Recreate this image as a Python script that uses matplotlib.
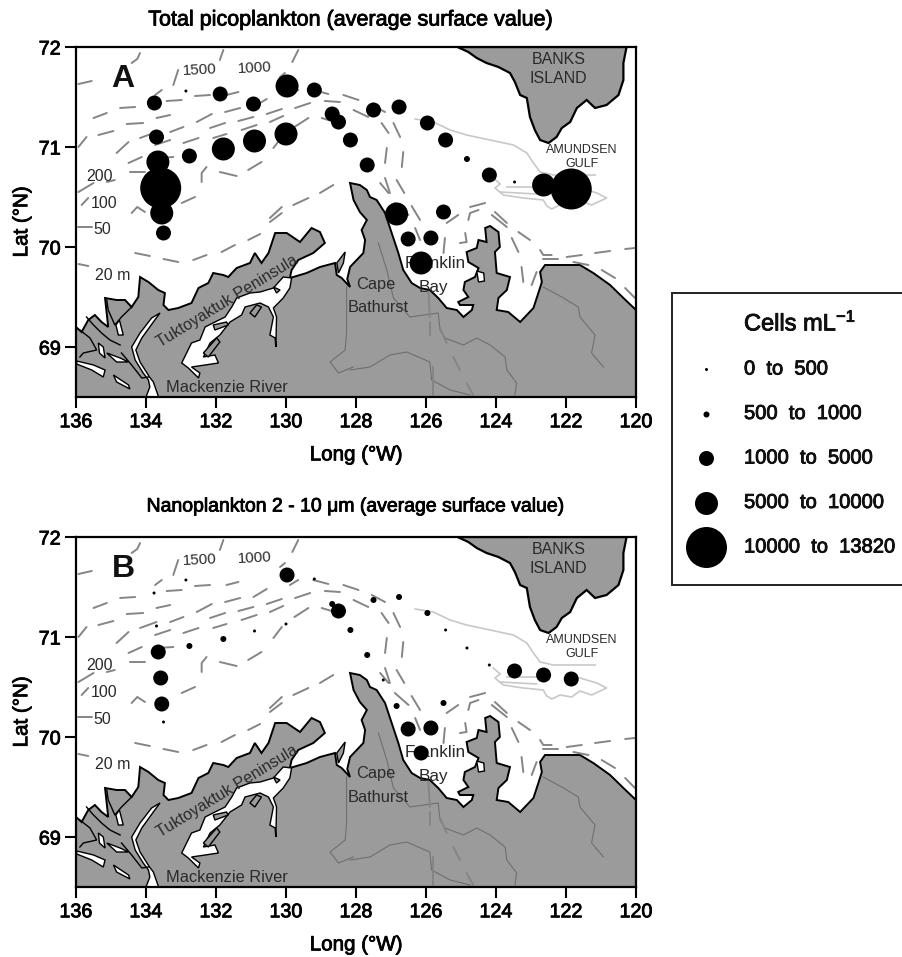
"""Picoplankton and nanoplankton station maps, Amundsen Gulf."""
import matplotlib
matplotlib.use("Agg")
import matplotlib.pyplot as plt
import matplotlib.patheffects as pe
from matplotlib.patches import Polygon, Rectangle

plt.rcParams["font.family"] = ["Liberation Sans", "DejaVu Sans"]
plt.rcParams["mathtext.default"] = "regular"

# station positions and abundance class (index into class_labels)
lon_a = [133.76, 133.70, 133.66, 133.58, 133.55, 133.50, 132.76, 131.79, 130.90, 130.00,
         131.88, 130.93, 129.97, 129.19, 128.68, 128.50, 128.16, 132.86, 127.50, 126.77,
         125.96, 125.44, 124.83, 124.19, 123.47, 122.64, 121.85, 127.68, 126.84, 125.50,
         126.51, 125.86, 126.14]
lat_a = [71.44, 71.10, 70.85, 70.59, 70.34, 70.14, 70.91, 70.98, 71.06, 71.13,
         71.53, 71.43, 71.61, 71.57, 71.33, 71.25, 71.07, 71.56, 71.37, 71.40,
         71.24, 71.07, 70.88, 70.72, 70.65, 70.62, 70.58, 70.82, 70.33, 70.35,
         70.08, 70.09, 69.84]
bin_a = [2, 2, 3, 4, 3, 2, 2, 3, 3, 3,
         2, 2, 3, 2, 2, 2, 2, 0, 2, 2,
         2, 2, 1, 2, 0, 3, 4, 2, 3, 2,
         2, 2, 3]

lon_b = [132.86, 133.77, 133.70, 133.65, 133.58, 133.55, 133.50, 132.76, 131.79, 130.90,
         130.00, 129.97, 129.19, 128.68, 128.50, 128.16, 127.50, 126.77, 125.96, 125.44,
         124.83, 124.19, 123.47, 122.64, 121.85, 127.68, 127.22, 126.84, 125.50, 126.51,
         125.86, 126.14]
lat_b = [71.57, 71.44, 71.11, 70.85, 70.59, 70.33, 70.15, 70.91, 70.98, 71.06,
         71.13, 71.62, 71.58, 71.33, 71.26, 71.07, 71.37, 71.40, 71.24, 71.07,
         70.89, 70.72, 70.66, 70.62, 70.58, 70.82, 70.57, 70.31, 70.34, 70.08,
         70.09, 69.84]
bin_b = [0, 0, 0, 2, 2, 2, 0, 1, 1, 0,
         0, 2, 0, 1, 2, 1, 1, 1, 1, 0,
         0, 0, 2, 2, 2, 1, 0, 1, 1, 2,
         2, 2]

class_labels = ["0  to  500", "500  to  1000", "1000  to  5000", "5000  to  10000", "10000  to  13820"]
class_diam_px = [3, 6, 15, 23, 41]

x_ticks = [136, 134, 132, 130, 128, 126, 124, 122, 120]
y_ticks = [69, 70, 71, 72]

# coastlines, lon/lat
mainland = [
    (136.0, 69.20), (135.84, 69.15), (135.65, 69.27), (135.46, 69.32), (135.27, 69.25), (135.08, 69.20),
    (135.17, 69.49), (134.84, 69.47), (134.60, 69.47), (134.41, 69.40), (134.22, 69.50), (134.17, 69.70),
    (133.93, 69.65), (133.65, 69.57), (133.46, 69.54), (133.50, 69.42), (133.36, 69.37), (133.08, 69.39),
    (132.70, 69.44), (132.50, 69.59), (132.22, 69.64), (132.08, 69.74), (131.79, 69.72), (131.65, 69.70),
    (131.41, 69.79), (131.03, 69.84), (130.89, 69.94), (130.70, 69.84), (130.50, 69.94), (130.31, 70.14),
    (129.98, 70.14), (129.60, 70.05), (129.27, 70.19), (129.03, 70.15), (128.89, 70.04), (129.22, 69.94),
    (129.65, 69.87), (129.84, 69.77), (129.89, 69.69), (129.41, 69.74), (129.03, 69.80), (128.60, 69.84),
    (128.55, 69.72), (128.41, 69.69), (128.17, 69.60), (128.25, 69.68), (128.17, 69.80), (127.79, 69.94),
    (127.74, 70.07), (127.84, 70.17), (127.69, 70.27), (127.89, 70.35), (128.07, 70.47), (128.17, 70.64),
    (127.89, 70.62), (127.69, 70.57), (127.60, 70.50), (127.41, 70.47), (127.17, 70.34), (126.98, 70.14),
    (126.79, 69.94), (126.65, 69.77), (126.41, 69.64), (126.17, 69.59), (125.89, 69.57), (125.65, 69.49),
    (125.41, 69.39), (125.12, 69.37), (124.93, 69.30), (124.69, 69.37), (124.65, 69.42), (125.03, 69.42),
    (125.08, 69.45), (124.79, 69.50), (124.93, 69.57), (124.89, 69.65), (124.60, 69.70), (124.50, 69.79),
    (124.79, 69.85), (124.84, 69.95), (124.55, 69.99), (124.50, 70.07), (124.27, 70.05), (124.31, 70.19),
    (124.17, 70.21), (123.93, 70.15), (123.89, 70.00), (124.03, 69.95), (123.98, 69.74), (123.60, 69.70),
    (123.69, 69.57), (123.93, 69.49), (123.98, 69.37), (123.65, 69.35), (123.31, 69.25), (122.93, 69.39),
    (122.79, 69.54), (122.69, 69.65), (122.74, 69.75), (122.60, 69.82), (122.07, 69.82), (121.60, 69.82),
    (121.22, 69.74), (120.74, 69.62), (120.36, 69.49), (120.0, 69.37), (120.0, 68.5), (136.0, 68.5),
]
banks_island = [
    (125.10, 72.0), (124.79, 71.95), (124.55, 71.89), (124.27, 71.84), (123.93, 71.80), (123.60, 71.74),
    (123.46, 71.65), (123.31, 71.52), (123.12, 71.49), (123.03, 71.30), (122.89, 71.17), (122.74, 71.07),
    (122.50, 71.04), (122.27, 71.10), (122.12, 71.19), (121.88, 71.25), (121.69, 71.39), (121.41, 71.47),
    (121.17, 71.39), (120.84, 71.42), (120.50, 71.52), (120.36, 71.67), (120.36, 71.84), (120.27, 72.0),
]
small_islands = [
    [(131.03, 69.34), (130.84, 69.42), (130.70, 69.40), (130.89, 69.30)],
    [(130.36, 69.60), (130.17, 69.57), (130.27, 69.54)],
    [(132.08, 69.22), (131.70, 69.25), (131.65, 69.22), (132.03, 69.17)],
    [(132.36, 68.94), (131.98, 69.09), (131.89, 69.05), (132.22, 68.90)],
    [(128.55, 69.84), (128.31, 69.95), (128.36, 69.84), (128.50, 69.74)],
]
water_patches = [
    [(129.84, 69.69), (130.08, 69.70), (130.36, 69.59), (130.74, 69.55), (131.03, 69.54), (131.41, 69.49),
     (131.55, 69.40), (131.74, 69.30), (132.03, 69.25), (132.31, 69.20), (132.46, 69.07), (132.70, 69.04),
     (132.98, 68.84), (132.79, 68.79), (132.50, 68.69), (132.46, 68.74), (132.70, 68.80), (132.31, 68.82),
     (131.93, 68.84), (132.03, 68.92), (132.36, 68.90), (132.17, 69.04), (131.89, 69.12), (131.60, 69.25),
     (131.27, 69.32), (131.17, 69.40), (130.74, 69.44), (130.50, 69.40), (130.36, 69.30), (130.46, 69.12),
     (130.31, 69.09), (130.29, 69.00), (130.27, 69.30), (130.36, 69.39), (130.08, 69.49), (129.89, 69.59)],
    [(135.98, 68.86), (135.50, 68.82), (135.17, 68.77), (135.22, 68.70), (135.55, 68.77), (135.98, 68.83)],
    [(134.93, 68.72), (134.50, 68.62), (134.46, 68.58), (134.84, 68.65)],
    [(133.60, 69.34), (133.84, 69.29), (134.17, 69.14), (134.41, 69.00), (134.31, 68.87), (134.08, 68.74),
     (133.93, 68.67), (133.89, 68.60), (134.00, 68.50), (133.64, 68.50), (133.79, 68.65), (133.90, 68.70),
     (134.17, 68.85), (134.29, 68.97), (134.12, 69.09), (133.79, 69.25)],
    [(134.86, 69.22), (134.76, 69.27), (134.65, 69.12), (134.79, 69.12)],
    [(135.36, 69.04), (135.22, 69.00), (135.17, 68.89), (135.33, 68.94)],
    [(135.12, 68.94), (134.74, 68.89), (134.50, 68.85), (134.84, 68.85)],
    [(124.55, 69.76), (124.35, 69.74), (124.33, 69.66), (124.50, 69.65)],
]
delta_lines = [
    [(135.70, 69.30), (135.50, 69.22), (135.27, 69.14), (135.03, 69.07), (134.74, 69.02)],
    [(135.89, 69.17), (135.60, 69.09), (135.41, 68.97), (135.79, 68.94), (135.89, 68.90)],
    [(135.12, 69.47), (135.08, 69.37), (134.89, 69.22), (134.70, 69.30), (134.41, 69.40)],
    [(134.70, 68.94), (134.41, 68.82), (134.12, 68.69), (133.93, 68.70)],
]
rivers = [
    [(122.65, 69.60), (122.07, 69.49), (121.65, 69.40), (121.60, 69.30), (121.17, 69.12), (121.27, 68.94), (120.93, 68.80)],
    [(128.17, 68.77), (127.60, 68.80), (127.03, 68.92), (126.55, 68.95), (125.89, 68.85), (125.84, 68.67), (125.31, 68.57), (124.74, 68.52)],
    [(127.36, 70.04), (127.12, 69.77), (126.93, 69.49), (126.46, 69.30), (125.65, 69.34), (125.60, 69.17), (125.46, 69.09),
     (124.93, 69.02), (124.55, 69.09), (124.17, 69.02), (123.74, 68.90), (123.69, 68.77), (123.41, 68.64), (123.46, 68.52)],
    [(128.27, 69.60), (128.27, 69.14), (128.31, 68.97), (128.74, 68.85), (128.50, 68.74), (128.08, 68.80)],
]
# ship track and ice edge through the gulf
track_line = [(126.31, 71.28), (125.79, 71.25), (125.31, 71.17), (124.84, 71.12), (124.17, 71.07), (123.50, 71.02),
              (123.12, 70.94), (122.93, 70.84), (122.74, 70.75), (122.36, 70.72), (121.17, 70.72)]
gulf_outline = [(124.08, 70.69), (123.88, 70.63), (124.03, 70.59), (123.79, 70.52), (123.22, 70.49), (122.65, 70.47),
                (122.55, 70.41), (122.41, 70.38), (122.17, 70.42), (121.84, 70.40), (121.60, 70.46), (121.27, 70.42),
                (120.84, 70.49), (121.12, 70.54), (121.60, 70.59)]
gulf_inner = [(123.88, 70.55), (122.84, 70.53)]
gulf_inner2 = [(123.69, 70.60), (122.84, 70.60)]

# isobath dashes, traced one by one
isobaths = [
    [(135.93, 71.63), (135.55, 71.66)], [(134.41, 71.84), (134.25, 71.88), (134.17, 71.94)],
    [(133.22, 71.62), (133.08, 71.77)], [(131.89, 71.87), (131.79, 71.97)], [(129.82, 71.85), (129.65, 71.97)],
    [(133.74, 71.52), (133.55, 71.57)], [(135.50, 71.29), (135.12, 71.34)], [(134.74, 71.39), (134.31, 71.40)],
    [(133.41, 71.46), (132.98, 71.47)], [(132.60, 71.51), (132.17, 71.52)], [(131.70, 71.52), (131.36, 71.55)],
    [(130.93, 71.40), (130.55, 71.48)], [(129.89, 71.52), (129.65, 71.57)], [(129.22, 71.57), (128.79, 71.53)],
    [(128.36, 71.52), (127.93, 71.47)], [(130.17, 71.70), (130.03, 71.74)],
    [(135.36, 71.12), (134.93, 71.16)], [(134.55, 71.23), (134.08, 71.24)], [(133.70, 71.29), (133.31, 71.32)],
    [(132.55, 71.25), (132.12, 71.33)], [(131.74, 71.35), (131.31, 71.39)], [(130.55, 71.33), (130.12, 71.38)],
    [(129.74, 71.39), (129.31, 71.44)], [(128.89, 71.46), (128.46, 71.45)], [(128.07, 71.37), (127.65, 71.30)],
    [(134.17, 71.09), (133.70, 71.15)], [(133.31, 71.15), (132.93, 71.20)], [(132.17, 71.19), (131.74, 71.24)],
    [(131.36, 71.26), (130.93, 71.30)], [(130.46, 71.25), (130.08, 71.31)], [(129.76, 71.20), (129.36, 71.29)],
    [(128.98, 71.29), (128.70, 71.26)], [(134.84, 70.94), (134.50, 71.05)], [(133.74, 71.02), (133.31, 71.07)],
    [(132.93, 71.04), (132.50, 71.09)], [(132.08, 71.09), (131.70, 71.13)], [(131.27, 71.17), (130.84, 71.22)],
    [(135.93, 71.00), (135.70, 71.10)], [(134.50, 70.84), (134.12, 70.90)], [(134.46, 70.75), (134.03, 70.75)],
    [(133.65, 70.89), (133.22, 70.90)], [(132.41, 70.65), (132.41, 70.74), (132.27, 70.80)],
    [(131.89, 70.75), (131.41, 70.71)], [(131.08, 70.77), (130.70, 70.85)], [(130.36, 70.99), (130.12, 71.10)],
    [(135.93, 70.55), (135.50, 70.64)], [(135.12, 70.65), (134.89, 70.67)], [(135.84, 70.42), (135.65, 70.49)],
    [(134.41, 70.34), (134.25, 70.40), (134.03, 70.35)], [(132.98, 70.44), (132.60, 70.50)],
    [(130.46, 70.29), (130.12, 70.40)], [(129.79, 70.42), (129.36, 70.49)], [(129.03, 70.54), (128.65, 70.62)],
    [(135.93, 70.20), (135.55, 70.20)], [(135.93, 69.83), (135.65, 69.81)], [(134.31, 69.94), (133.89, 69.91)],
    [(133.50, 69.88), (133.08, 69.85)], [(132.65, 69.87), (132.27, 69.92)], [(131.84, 69.95), (131.46, 70.02)],
    [(131.08, 70.07), (130.74, 70.13)], [(130.46, 70.25), (130.12, 70.34)],
    [(127.55, 71.42), (127.17, 71.35)], [(127.27, 71.24), (127.07, 71.14)], [(126.93, 71.24), (126.74, 71.10)],
    [(127.12, 70.99), (127.17, 70.84)], [(126.65, 70.95), (126.69, 70.80)], [(127.31, 70.64), (127.07, 70.54)],
    [(127.17, 70.69), (127.03, 70.54)], [(126.84, 70.67), (126.62, 70.54)], [(126.89, 70.44), (126.50, 70.32)],
    [(126.41, 70.41), (126.17, 70.27)], [(125.41, 70.24), (125.08, 70.32)],
    [(124.79, 70.27), (124.74, 70.34), (124.50, 70.37)], [(124.74, 70.40), (124.31, 70.44)],
    [(124.12, 70.32), (123.69, 70.20)], [(124.03, 70.35), (123.69, 70.24)], [(123.36, 70.15), (123.03, 70.07)],
    [(126.31, 70.19), (126.17, 70.07)], [(125.46, 70.09), (125.50, 69.94)],
    [(124.88, 70.14), (124.84, 70.05), (125.03, 70.04)], [(123.55, 70.09), (123.36, 69.95)],
    [(123.27, 69.80), (123.22, 69.65)], [(122.84, 69.75), (122.98, 69.62)],
    [(122.74, 69.97), (122.65, 69.92), (122.41, 69.92)], [(122.65, 69.88), (122.22, 69.88)],
    [(121.98, 69.90), (121.55, 69.92)], [(121.17, 69.94), (120.74, 69.96)], [(120.31, 69.98), (120.03, 69.99)],
    [(121.79, 69.85), (121.36, 69.82)], [(120.98, 69.77), (120.60, 69.69)], [(120.31, 69.59), (120.03, 69.49)],
    [(125.89, 69.25), (125.89, 69.12)], [(125.60, 69.19), (125.41, 69.04)], [(125.22, 68.90), (125.03, 68.77)],
    [(124.84, 68.64), (124.65, 68.52)], [(125.79, 68.80), (125.79, 68.52)], [(125.93, 69.55), (125.89, 69.30)],
]

LAND = "#9b9b9b"
DASH = "#858585"
INK = "#2a2a2a"
# the source is a slightly blurred scan, regular type reads a bit heavy
HEAVY = [pe.withStroke(linewidth=0.6, foreground="black")]


def _line(ax, pts, **kw):
    ax.plot([p[0] for p in pts], [p[1] for p in pts], **kw)


def draw_basemap(ax):
    ax.add_patch(Polygon(mainland, closed=True, fc=LAND, ec="black", lw=1.4, zorder=1))
    ax.add_patch(Polygon(banks_island, closed=True, fc=LAND, ec="black", lw=1.6, zorder=1))
    for river in rivers:
        _line(ax, river, color="#6f6f6f", lw=0.8, zorder=1.5)
    for patch in water_patches:
        ax.add_patch(Polygon(patch, closed=True, fc="white", ec="black", lw=1.0, zorder=2))
    for isl in small_islands:
        ax.add_patch(Polygon(isl, closed=True, fc=LAND, ec="black", lw=1.0, zorder=2.2))
    for dl in delta_lines:
        _line(ax, dl, color="black", lw=1.0, zorder=2.2)
    for dash in isobaths:
        _line(ax, dash, color=DASH, lw=1.4, solid_capstyle="round", zorder=2.5)
    for pts in (track_line, gulf_outline, gulf_inner, gulf_inner2):
        _line(ax, pts, color="#c8c8c8", lw=1.2, zorder=2.5)

    ax.text(132.46, 71.77, "1500", fontsize=11, color=INK, ha="center", va="center", rotation=3)
    ax.text(130.89, 71.79, "1000", fontsize=11, color=INK, ha="center", va="center", rotation=3)
    ax.text(135.32, 70.71, "200", fontsize=11.5, color=INK, ha="center", va="center")
    ax.text(135.2, 70.44, "100", fontsize=11.5, color=INK, ha="center", va="center")
    ax.text(135.25, 70.17, "50", fontsize=11.5, color=INK, ha="center", va="center")
    ax.text(134.95, 69.72, "20 m", fontsize=11.5, color=INK, ha="center", va="center")
    ax.text(122.21, 71.78, "BANKS\nISLAND", fontsize=11.5, color=INK, ha="center", va="center", linespacing=1.3)
    ax.text(121.54, 70.90, "AMUNDSEN\nGULF", fontsize=9, color=INK, ha="center", va="center", linespacing=1.3)
    ax.text(131.69, 69.46, "Tuktoyaktuk Peninsula", fontsize=11.6, color=INK, ha="center", va="center",
            rotation=31.5, rotation_mode="anchor")
    ax.text(131.70, 68.60, "Mackenzie River", fontsize=11.8, color=INK, ha="center", va="center")
    ax.text(127.43, 69.63, "Cape", fontsize=11.8, color=INK, ha="center", va="center")
    ax.text(127.37, 69.39, "Bathurst", fontsize=11.8, color=INK, ha="center", va="center")
    ax.text(125.74, 69.84, "Franklin", fontsize=12.3, color=INK, ha="center", va="center")
    ax.text(125.80, 69.60, "Bay", fontsize=12.3, color=INK, ha="center", va="center")


def draw_panel(ax, lons, lats, bins, tag):
    ax.set_xlim(x_ticks[0], x_ticks[-1])
    ax.set_ylim(68.5, 72)
    draw_basemap(ax)
    sizes = [(class_diam_px[b] * 0.72) ** 2 for b in bins]
    ax.scatter(lons, lats, s=sizes, c="black", linewidths=0, zorder=5)
    ax.text(134.65, 71.68, tag, fontsize=23, fontweight="bold", color="#111111", ha="center", va="center", zorder=6)

    ax.set_xticks(x_ticks)
    ax.set_yticks(y_ticks)
    ax.tick_params(length=8, width=1.5, pad=3, labelsize=14.2)
    for lab in ax.get_xticklabels() + ax.get_yticklabels():
        lab.set_path_effects(HEAVY)
    for spine in ax.spines.values():
        spine.set_linewidth(1.6)
    ax.set_xlabel("Long (°W)", fontsize=14.8, path_effects=HEAVY)
    ax.set_ylabel("Lat (°N)", fontsize=14.8, path_effects=HEAVY)
    ax.xaxis.set_label_coords(0.5, -0.138)
    ax.yaxis.set_label_coords(-0.08, 0.5)


W, H = 903, 957
fig = plt.figure(figsize=(W / 100, H / 100), dpi=100)
ax_a = fig.add_axes([76 / W, (H - 397) / H, 560 / W, 350 / H])
ax_b = fig.add_axes([76 / W, (H - 887) / H, 560 / W, 350 / H])
draw_panel(ax_a, lon_a, lat_a, bin_a, "A")
draw_panel(ax_b, lon_b, lat_b, bin_b, "B")

# overlay in pixel units for the titles and the legend box
ov = fig.add_axes([0, 0, 1, 1], facecolor="none")
ov.set_xlim(0, W)
ov.set_ylim(H, 0)
ov.axis("off")
ov.text(350, 20, "Total picoplankton (average surface value)", fontsize=15.5, ha="center", va="center", path_effects=HEAVY)
ov.text(357, 507, "Nanoplankton 2 - 10 μm (average surface value)", fontsize=14, ha="center", va="center", path_effects=HEAVY)

ov.add_patch(Rectangle((672, 293), 240, 292, fc="white", ec="#222222", lw=1.4))
ov.text(744, 323, "Cells mL$^{-1}$", fontsize=17, ha="left", va="center", color="#111111", path_effects=HEAVY)
for i, (label, diam) in enumerate(zip(class_labels, class_diam_px)):
    y = 369 + i * 44.5
    ov.scatter([706.5], [y], s=(diam * 0.72) ** 2, c="black", linewidths=0)
    ov.text(744, y, label, fontsize=14.5, ha="left", va="center", color="#111111", path_effects=HEAVY)

fig.savefig("out.png", dpi=100)
